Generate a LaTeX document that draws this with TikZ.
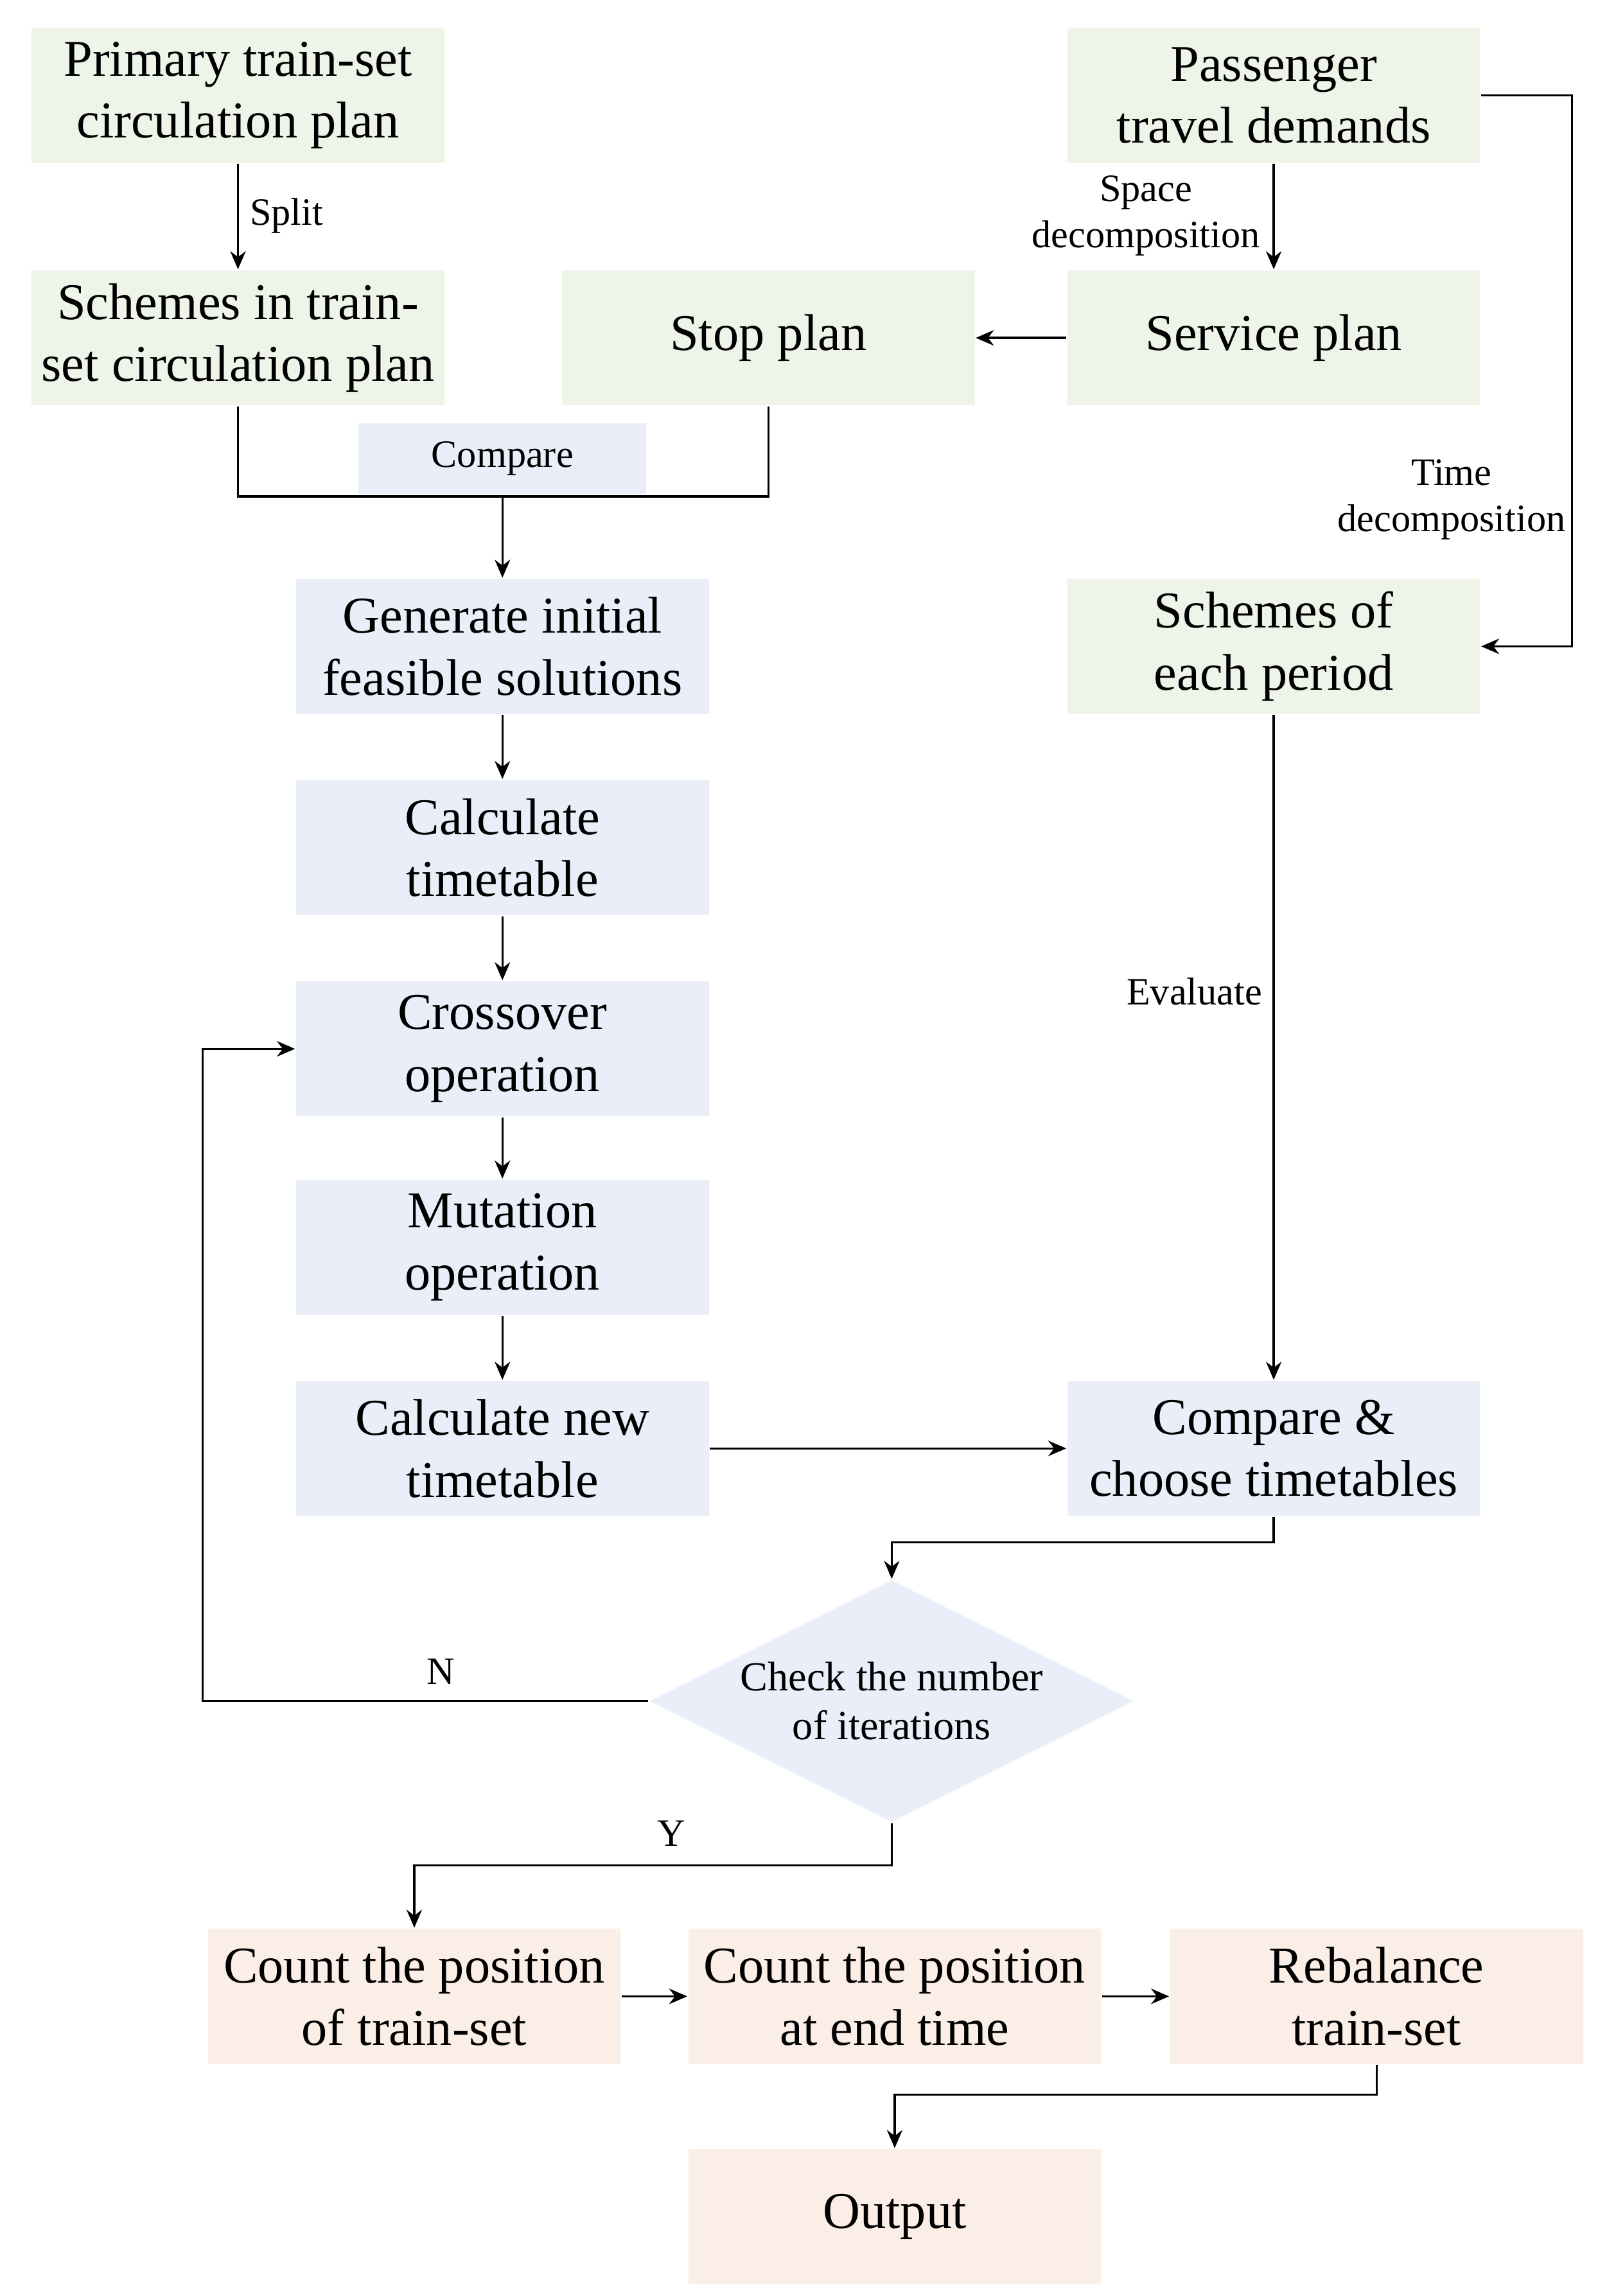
\documentclass[tikz,border=0pt]{standalone}
\usepackage{fontspec}
\setmainfont{Liberation Serif}
\usetikzlibrary{shapes.geometric,arrows.meta}
\definecolor{greenfill}{HTML}{EEF4E8}
\definecolor{bluefill}{HTML}{E9EEF8}
\definecolor{pinkfill}{HTML}{FBEEE6}
\tikzset{
	block/.style    = {rectangle, align=center, inner sep=0pt,
		minimum height = 1.84cm,
		minimum width = 5.62cm,
		font=\fontsize{20}{24}\selectfont},
	gblock/.style   = {block, fill=greenfill},
	bblock/.style   = {block, fill=bluefill},
	pblock/.style   = {block, fill=pinkfill},
	decide/.style   = {diamond, fill=bluefill, aspect=2, inner sep=0pt, align=center,
		minimum width=6.6cm, minimum height=3.3cm,
		font=\fontsize{16}{19}\selectfont},
	lbl/.style      = {align=center, font=\fontsize{15}{18}\selectfont},
}

\begin{document}
\begin{tikzpicture}[ thick,
                     >={Stealth[length=7pt,width=6pt]}
                     ]
    \useasboundingbox (0,0) rectangle (22,-31.26);

    %-- Blocks creation --%
    \draw
      % INPUT PLANS %
      node(primary) at (3.24,-1.30) [gblock] {Primary train-set\\circulation plan}
      node(demand) at (17.34,-1.30) [gblock] {Passenger\\travel demands}
      node(schemes) at (3.24,-4.60) [gblock] {Schemes in train-\\set circulation plan}
      node(stop) at (10.46,-4.60) [gblock] {Stop plan}
      node(service) at (17.34,-4.60) [gblock] {Service plan}
      node(period) at (17.34,-8.80) [gblock] {Schemes of\\each period}
    ;
    \draw
      % GENETIC LOOP %
      node(compare) at (6.84,-6.24) [bblock, minimum width=3.92cm, minimum height=0.96cm, font=\fontsize{15}{18}\selectfont] {Compare}
      node(initial) at (6.84,-8.80) [bblock] {Generate initial\\feasible solutions}
      node(timetable) at (6.84,-11.54) [bblock] {Calculate\\timetable}
      node(crossover) at (6.84,-14.28) [bblock] {Crossover\\operation}
      node(mutation) at (6.84,-16.98) [bblock] {Mutation\\operation}
      node(newTimetable) at (6.84,-19.72) [bblock] {Calculate new\\timetable}
      node(choose) at (17.34,-19.72) [bblock] {Compare \&\\choose timetables}
      node(check) at (12.14,-23.16) [decide] {Check the number\\of iterations}
    ;
    \draw
      % REBALANCING %
      node(countPos) at (5.64,-27.18) [pblock] {Count the position\\of train-set}
      node(countEnd) at (12.18,-27.18) [pblock] {Count the position\\at end time}
      node(rebalance) at (18.74,-27.18) [pblock] {Rebalance\\train-set}
      node(output) at (12.18,-30.18) [pblock] {Output}
    ;
    \draw
      node[shape=coordinate](schemesDown) at (3.24,-6.76){}
      node[shape=coordinate](stopDown) at (10.46,-6.76){}
      node[shape=coordinate](compareNode) at (6.84,-6.76){}
      node[shape=coordinate](demandRight) at (21.4,-1.30){}
      node[shape=coordinate](periodRight) at (21.4,-8.80){}
      node[shape=coordinate](chooseDown) at (17.34,-21.0){}
      node[shape=coordinate](checkTop) at (12.14,-21.0){}
      node[shape=coordinate](loopDown) at (2.76,-23.16){}
      node[shape=coordinate](loopUp) at (2.76,-14.28){}
      node[shape=coordinate](checkDown) at (12.14,-25.4){}
      node[shape=coordinate](countTop) at (5.64,-25.4){}
      node[shape=coordinate](rebalanceDown) at (18.74,-28.52){}
      node[shape=coordinate](outputTop) at (12.18,-28.52){}
    ;

    %-- Block linking --%
    % INPUT PLANS %
    \draw[->] (primary)  -- (schemes);
    \draw[->] (demand)   -- (service);
    \draw[->] (service)  -- (stop);
    \draw[->] (demand.east) -- (demandRight) -- (periodRight) -- (period.east);
    \draw[-]  (schemes)  -- (schemesDown) -- (stopDown) -- (stop);
    \draw[->] (compareNode) -- (initial);

    % GENETIC LOOP %
    \draw[->] (initial)      -- (timetable);
    \draw[->] (timetable)    -- (crossover);
    \draw[->] (crossover)    -- (mutation);
    \draw[->] (mutation)     -- (newTimetable);
    \draw[->] (newTimetable) -- (choose);
    \draw[->] (period)       -- (choose);
    \draw[->] (choose)       -- (chooseDown) -- (checkTop) -- (check);
    \draw[->] (check)        -- (loopDown) -- (loopUp) -- (crossover);

    % REBALANCING %
    \draw[->] (check)     -- (checkDown) -- (countTop) -- (countPos);
    \draw[->] (countPos)  -- (countEnd);
    \draw[->] (countEnd)  -- (rebalance);
    \draw[->] (rebalance) -- (rebalanceDown) -- (outputTop) -- (output);

    %-- Labels --%
    \draw
      node(splitLbl) at (3.9,-2.94) [lbl] {Split}
      node(spaceLbl) at (15.6,-2.94) [lbl] {Space\\decomposition}
      node(timeLbl) at (19.76,-6.80) [lbl] {Time\\decomposition}
      node(evalLbl) at (16.26,-13.5) [lbl] {Evaluate}
      node(noLbl) at (6.0,-22.76) [lbl] {N}
      node(yesLbl) at (9.14,-24.96) [lbl] {Y}
    ;
\end{tikzpicture}
\end{document}
